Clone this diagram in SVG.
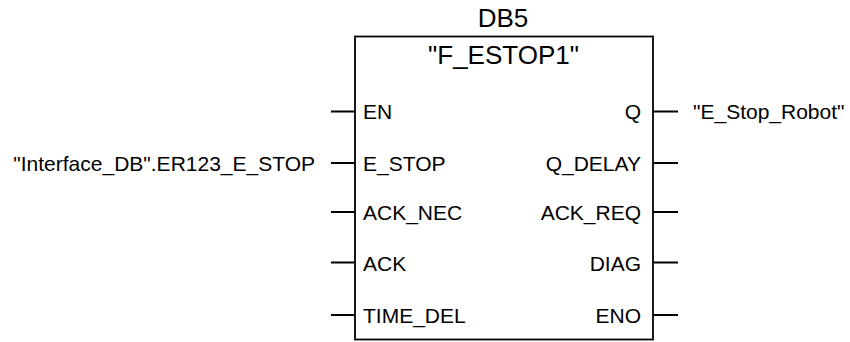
<svg xmlns="http://www.w3.org/2000/svg" width="850" height="342" viewBox="0 0 850 342">
<style>
.t{font-family:"Liberation Sans",Arial,sans-serif;fill:#000}
.title{font-size:26px}
.pin{font-size:21px}
.ln{stroke:#000;stroke-width:1.8;fill:none}
</style>
<rect width="850" height="342" fill="#fff"/>
<g id="block">
<rect class="ln" x="355" y="36.5" width="298" height="303"/>
<text class="t title" x="503" y="26.5" text-anchor="middle">DB5</text>
<text class="t title" x="503.5" y="63.5" text-anchor="middle">"F_ESTOP1"</text>
<text class="t pin" x="363" y="119">EN</text>
<text class="t pin" x="363" y="170.5">E_STOP</text>
<text class="t pin" x="363" y="220">ACK_NEC</text>
<text class="t pin" x="363" y="270.5">ACK</text>
<text class="t pin" x="363" y="323">TIME_DEL</text>
<text class="t pin" x="641" y="119" text-anchor="end">Q</text>
<text class="t pin" x="641" y="170.5" text-anchor="end">Q_DELAY</text>
<text class="t pin" x="641" y="220" text-anchor="end">ACK_REQ</text>
<text class="t pin" x="641" y="270.5" text-anchor="end">DIAG</text>
<text class="t pin" x="641" y="323" text-anchor="end">ENO</text>
</g>
<g id="connectors">
<path class="ln" d="M331 111.5H355M331 163H355M331 212H355M331 262.5H355M331 315H355M653 111.5H678M653 163H678M653 212H678M653 262.5H678M653 315H678"/>
</g>
<g id="labels">
<text class="t pin" x="315" y="170.5" text-anchor="end">"Interface_DB".ER123_E_STOP</text>
<text class="t pin" x="693" y="119">"E_Stop_Robot"</text>
</g>
</svg>
